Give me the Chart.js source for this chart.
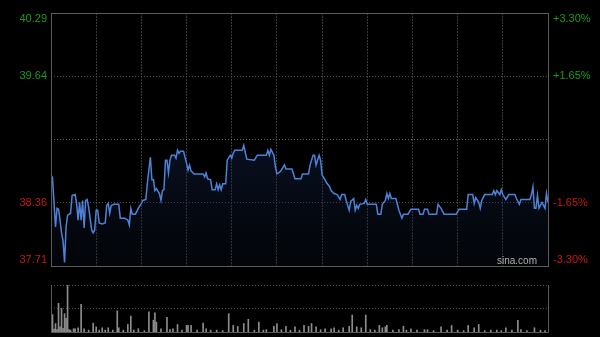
<!DOCTYPE html>
<html>
<head>
<meta charset="utf-8">
<script src="https://cdn.jsdelivr.net/npm/chart.js@4.4.1/dist/chart.umd.min.js"></script>
<style>
    html, body { margin: 0; padding: 0; background: #000; }
    #wrap { position: relative; width: 600px; height: 337px; background: #000; overflow: hidden; }
    canvas { position: absolute; left: 0; }
    #priceChart { top: 0; }
    #volChart { top: 280px; }
</style>
</head>
<body>
<div id="wrap">
    <canvas id="priceChart" width="600" height="280"></canvas>
    <canvas id="volChart" width="600" height="57"></canvas>
</div>
<script>
// previous close and the percent ticks of the axis
const prevClose = 39.00;
const pctTicks = [3.30, 1.65, 0, -1.65, -3.30];
const sessionMinutes = 330;

// intraday price, minute from the open -> price
const minutes = [0, 1, 3, 4, 5, 6, 7, 8, 9, 10, 11, 13, 14, 16, 17, 18, 19, 20, 21, 22, 23, 24, 25, 27, 28, 29, 30, 31, 32, 34, 36, 37, 38, 39, 40, 42, 45, 46, 49, 51, 52, 53, 54, 56, 58, 60, 61, 63, 64, 66, 67, 68, 69, 70, 72, 73, 74, 75, 76, 77, 78, 79, 80, 82, 83, 84, 85, 86, 88, 90, 91, 92, 93, 95, 101, 102, 103, 104, 106, 107, 109, 110, 111, 112, 113, 114, 116, 117, 119, 120, 121, 122, 127, 128, 130, 135, 137, 143, 144, 145, 146, 148, 149, 150, 152, 153, 155, 156, 160, 162, 166, 167, 171, 172, 174, 175, 176, 178, 179, 180, 182, 183, 185, 186, 188, 190, 192, 193, 195, 196, 198, 199, 201, 202, 203, 204, 205, 208, 209, 210, 216, 217, 219, 220, 222, 223, 224, 225, 226, 229, 231, 233, 234, 237, 239, 244, 245, 247, 248, 250, 251, 256, 257, 259, 261, 269, 271, 276, 277, 280, 281, 282, 284, 285, 286, 288, 293, 294, 295, 296, 298, 299, 300, 302, 304, 308, 309, 311, 312, 318, 319, 320, 321, 322, 323, 324, 326, 328, 329, 330];
const prices = [38.64, 38.61, 38.11, 38.30, 38.29, 38.18, 38.05, 37.97, 37.75, 38.11, 38.23, 38.25, 38.43, 38.44, 38.35, 38.18, 38.36, 38.18, 38.38, 38.10, 38.38, 38.39, 38.31, 38.08, 38.05, 38.08, 38.28, 38.28, 38.15, 38.14, 38.15, 38.33, 38.35, 38.25, 38.33, 38.34, 38.34, 38.20, 38.20, 38.18, 38.13, 38.30, 38.24, 38.24, 38.30, 38.35, 38.38, 38.39, 38.56, 38.82, 38.59, 38.59, 38.48, 38.50, 38.45, 38.38, 38.48, 38.49, 38.79, 38.79, 38.66, 38.79, 38.84, 38.84, 38.81, 38.89, 38.86, 38.88, 38.88, 38.76, 38.69, 38.74, 38.68, 38.65, 38.65, 38.62, 38.66, 38.60, 38.59, 38.49, 38.49, 38.55, 38.49, 38.54, 38.49, 38.55, 38.55, 38.79, 38.84, 38.81, 38.86, 38.89, 38.89, 38.94, 38.80, 38.79, 38.84, 38.84, 38.89, 38.84, 38.90, 38.84, 38.72, 38.65, 38.67, 38.69, 38.74, 38.70, 38.70, 38.60, 38.60, 38.65, 38.65, 38.74, 38.84, 38.84, 38.74, 38.84, 38.79, 38.64, 38.59, 38.56, 38.52, 38.48, 38.45, 38.44, 38.39, 38.44, 38.44, 38.38, 38.28, 38.37, 38.40, 38.28, 38.33, 38.30, 38.34, 38.35, 38.39, 38.34, 38.34, 38.24, 38.24, 38.34, 38.38, 38.45, 38.40, 38.45, 38.40, 38.40, 38.28, 38.20, 38.24, 38.24, 38.29, 38.29, 38.24, 38.24, 38.29, 38.29, 38.24, 38.24, 38.34, 38.30, 38.24, 38.24, 38.29, 38.29, 38.44, 38.44, 38.35, 38.41, 38.36, 38.30, 38.38, 38.44, 38.44, 38.48, 38.44, 38.48, 38.44, 38.49, 38.44, 38.39, 38.44, 38.44, 38.40, 38.34, 38.39, 38.39, 38.44, 38.52, 38.30, 38.30, 38.43, 38.30, 38.36, 38.30, 38.45, 38.36];

// volume, minute -> relative volume (tallest = 100)
const volMinutes = [0, 1, 2, 3, 4, 5, 6, 7, 8, 9, 10, 11, 12, 13, 15, 16, 18, 20, 22, 25, 28, 30, 32, 34, 36, 38, 41, 44, 45, 48, 51, 53, 55, 58, 62, 65, 68, 69, 70, 73, 77, 79, 81, 84, 87, 90, 91, 93, 97, 101, 103, 106, 110, 114, 118, 121, 124, 128, 131, 135, 138, 141, 143, 148, 150, 153, 156, 159, 162, 165, 168, 171, 173, 176, 179, 182, 186, 188, 191, 194, 198, 200, 203, 206, 209, 212, 215, 218, 220, 222, 223, 227, 231, 234, 236, 239, 243, 248, 250, 254, 259, 263, 266, 270, 274, 277, 281, 284, 288, 292, 296, 299, 302, 306, 310, 312, 316, 321, 325, 328];
const volValues = [100, 37, 6, 18, 5, 61, 11, 50, 8, 39, 29, 100, 5, 4, 7, 7, 9, 59, 7, 4, 19, 11, 4, 9, 4, 9, 4, 45, 9, 4, 16, 34, 4, 7, 3, 43, 25, 41, 21, 7, 31, 5, 7, 16, 4, 14, 14, 14, 4, 19, 7, 4, 4, 3, 39, 14, 12, 18, 27, 4, 21, 4, 5, 12, 18, 5, 12, 4, 11, 4, 14, 12, 18, 11, 5, 7, 7, 9, 4, 9, 12, 36, 11, 9, 36, 5, 4, 14, 9, 11, 14, 4, 5, 12, 4, 7, 4, 5, 5, 3, 11, 4, 14, 4, 3, 14, 9, 16, 3, 4, 4, 3, 9, 4, 25, 5, 3, 9, 4, 3];

const priceTicks = pctTicks.map(p => prevClose * (1 + p / 100));
const upColor = '#1b9a1b';
const downColor = '#c41a1a';

const framePlugin = {
    id: 'frame',
    afterDraw(chart, args, opts) {
        const { ctx, chartArea: a } = chart;
        ctx.save();
        ctx.strokeStyle = '#5a5a5a';
        ctx.lineWidth = 1;
        ctx.setLineDash(opts.dashTop ? [] : []);
        if (opts.dashTop) {
            ctx.beginPath();
            ctx.moveTo(a.left + 0.5, a.top);
            ctx.lineTo(a.left + 0.5, a.bottom + 0.5);
            ctx.lineTo(a.right + 0.5, a.bottom + 0.5);
            ctx.lineTo(a.right + 0.5, a.top);
            ctx.stroke();
        } else {
            ctx.strokeRect(a.left + 0.5, a.top + 0.5, a.right - a.left, a.bottom - a.top);
        }
        if (opts.labels) {
            const y = chart.scales.y;
            ctx.font = '11px "Liberation Sans", Arial, sans-serif';
            ctx.textBaseline = 'middle';
            pctTicks.forEach((p, i) => {
                if (p === 0) return;
                let py = y.getPixelForValue(priceTicks[i]);
                py = Math.min(Math.max(py, a.top + 6), a.bottom - 6);
                ctx.fillStyle = p > 0 ? upColor : downColor;
                ctx.textAlign = 'right';
                ctx.fillText(priceTicks[i].toFixed(2), a.left - 4, py);
                ctx.textAlign = 'left';
                ctx.fillText((p > 0 ? '+' : '') + p.toFixed(2) + '%', a.right + 5, py);
            });
            ctx.font = '10px "Liberation Sans", Arial, sans-serif';
            ctx.fillStyle = '#b0b0b0';
            ctx.textAlign = 'right';
            ctx.fillText('sina.com', a.right - 11, a.bottom - 5);
        }
        ctx.restore();
    }
};

new Chart(document.getElementById('priceChart').getContext('2d'), {
    type: 'line',
    data: {
        datasets: [{
            data: minutes.map((m, i) => ({ x: m, y: prices[i] })),
            borderColor: '#4d82d6',
            borderWidth: 1.5,
            pointRadius: 0,
            tension: 0,
            fill: 'start',
            backgroundColor: (c) => {
                const a = c.chart.chartArea;
                if (!a) return 'rgba(20,35,70,0.3)';
                const g = c.chart.ctx.createLinearGradient(0, a.top + 130, 0, a.bottom);
                g.addColorStop(0, 'rgba(25,45,95,0.35)');
                g.addColorStop(1, 'rgba(10,18,35,0.25)');
                return g;
            }
        }]
    },
    options: {
        responsive: false,
        animation: false,
        layout: { padding: { left: 51, right: 52, top: 13, bottom: 14 } },
        plugins: { legend: { display: false }, tooltip: { enabled: false }, frame: { labels: true } },
        scales: {
            x: {
                type: 'linear', min: 0, max: sessionMinutes,
                ticks: { display: false, stepSize: 30 },
                afterFit: s => { s.height = 0; },
                grid: {
                    drawTicks: false,
                    color: c => (c.tick.value === 0 || c.tick.value === sessionMinutes) ? 'rgba(0,0,0,0)' : '#3a3a3a'
                },
                border: { display: false, dash: [2, 1] }
            },
            y: {
                min: priceTicks[4], max: priceTicks[0],
                afterBuildTicks: s => { s.ticks = priceTicks.map(v => ({ value: v })); },
                ticks: { display: false },
                afterFit: s => { s.width = 0; },
                grid: {
                    drawTicks: false,
                    color: c => {
                        const v = c.tick.value;
                        if (v === priceTicks[0] || v === priceTicks[4]) return 'rgba(0,0,0,0)';
                        return v === prevClose ? '#6a6a6a' : '#4a4a4a';
                    }
                },
                border: { display: false, dash: [1, 2] }
            }
        }
    },
    plugins: [framePlugin]
});

new Chart(document.getElementById('volChart').getContext('2d'), {
    type: 'bar',
    data: {
        datasets: [{
            data: volMinutes.map((m, i) => ({ x: m, y: volValues[i] })),
            backgroundColor: '#8c8c8c',
            barThickness: 1,
            borderWidth: 0
        }]
    },
    options: {
        responsive: false,
        animation: false,
        layout: { padding: { left: 51, right: 52, top: 5, bottom: 5 } },
        plugins: { legend: { display: false }, tooltip: { enabled: false }, frame: { dashTop: true } },
        scales: {
            x: {
                type: 'linear', min: 0, max: sessionMinutes, offset: false,
                ticks: { display: false },
                afterFit: s => { s.height = 0; },
                grid: { display: false },
                border: { display: false }
            },
            y: {
                min: 0, max: 100,
                afterBuildTicks: s => { s.ticks = [50, 100].map(v => ({ value: v })); },
                ticks: { display: false },
                afterFit: s => { s.width = 0; },
                grid: { drawTicks: false, color: '#4a4a4a' },
                border: { display: false, dash: [1, 2] }
            }
        }
    },
    plugins: [framePlugin]
});
</script>
</body>
</html>
